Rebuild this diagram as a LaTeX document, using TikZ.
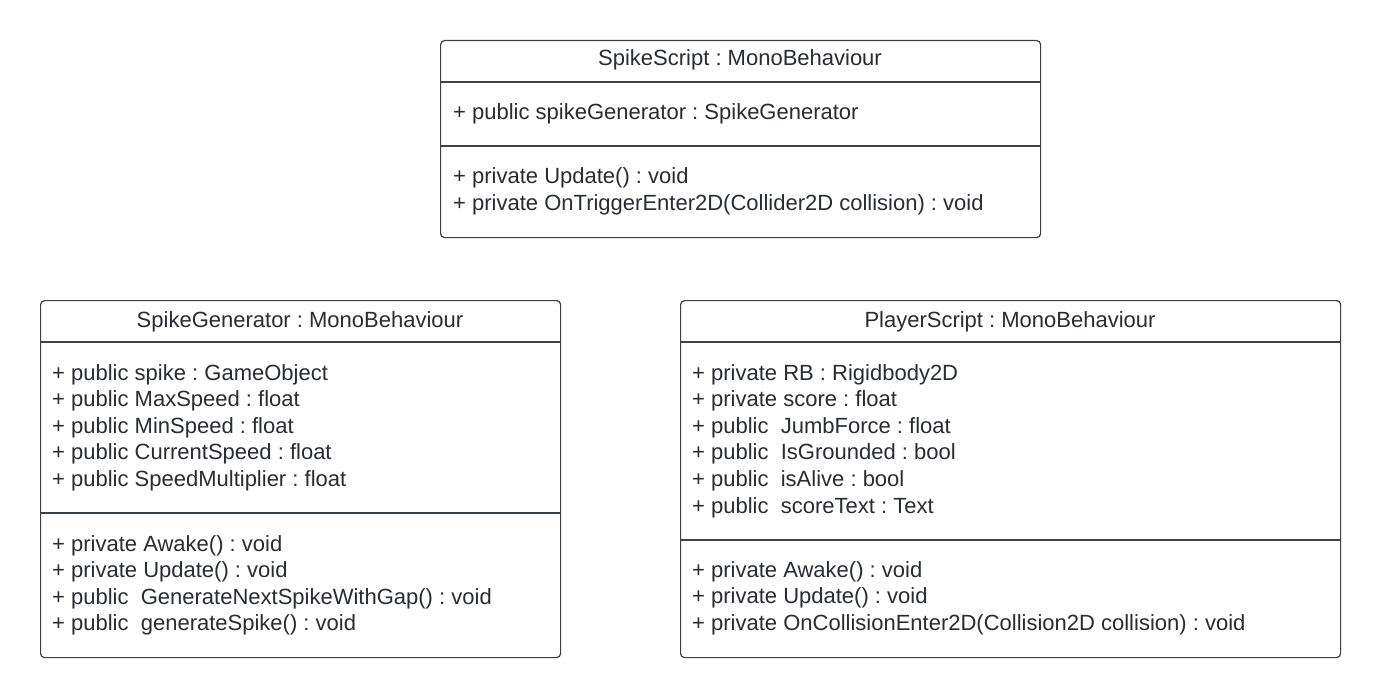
\documentclass[tikz,border=0pt]{standalone}
\usepackage{fontspec}
\setmainfont{Liberation Sans}
\definecolor{linecol}{HTML}{3A414A}
\definecolor{txtcol}{HTML}{282C33}
\begin{document}
\frenchspacing
\begin{tikzpicture}[x=1pt,y=-1pt,
  umlbox/.style={draw=linecol, line width=1.2pt, rounded corners=4pt, fill=white, anchor=north west, inner sep=0pt},
  divider/.style={draw=linecol, line width=1.2pt},
  txt/.style={text=txtcol, font=\fontsize{22}{26}\selectfont\frenchspacing, inner sep=0pt, anchor=base west},
  ttl/.style={text=txtcol, font=\fontsize{22}{26}\selectfont\frenchspacing, inner sep=0pt, anchor=base}]
\useasboundingbox[fill=white] (0,0) rectangle (1380,698);

% SpikeScript
\node[umlbox, minimum width=600pt, minimum height=197pt] (ss) at (440,40) {};
\draw[divider] (ss.west |- 0,82) -- (ss.east |- 0,82);
\draw[divider] (ss.west |- 0,146) -- (ss.east |- 0,146);
\node[ttl] (ss-t) at (740,66) {SpikeScript : MonoBehaviour};
\node[txt] (ss-a1) at (453,120) {+ public spikeGenerator : SpikeGenerator};
\node[txt] (ss-m1) at (453,183) {+ private Update() : void};
\node[txt] (ss-m2) at (453,210) {+ private OnTriggerEnter2D(Collider2D collision) : void};

% SpikeGenerator
\node[umlbox, minimum width=520pt, minimum height=357pt] (sg) at (40,300) {};
\draw[divider] (sg.west |- 0,342) -- (sg.east |- 0,342);
\draw[divider] (sg.west |- 0,513) -- (sg.east |- 0,513);
\node[ttl] (sg-t) at (300,327) {SpikeGenerator : MonoBehaviour};
\foreach \t [count=\i] in {{+ public spike : GameObject},{+ public MaxSpeed : float},{+ public MinSpeed : float},{+ public CurrentSpeed : float},{+ public SpeedMultiplier : float}}
  \node[txt] (sg-a\i) at (52,{380+26.6*(\i-1)}) {\t};
\foreach \t [count=\i] in {{+ private Awake() : void},{+ private Update() : void},{+ public\ \ GenerateNextSpikeWithGap() : void},{+ public\ \ generateSpike() : void}}
  \node[txt] (sg-m\i) at (52,{551+26.6*(\i-1)}) {\t};

% PlayerScript
\node[umlbox, minimum width=660pt, minimum height=357pt] (ps) at (680,300) {};
\draw[divider] (ps.west |- 0,342) -- (ps.east |- 0,342);
\draw[divider] (ps.west |- 0,540) -- (ps.east |- 0,540);
\node[ttl] (ps-t) at (1010,327) {PlayerScript : MonoBehaviour};
\foreach \t [count=\i] in {{+ private RB : Rigidbody2D},{+ private score : float},{+ public\ \ JumbForce : float},{+ public\ \ IsGrounded : bool},{+ public\ \ isAlive : bool},{+ public\ \ scoreText : Text}}
  \node[txt] (ps-a\i) at (692,{380+26.6*(\i-1)}) {\t};
\foreach \t [count=\i] in {{+ private Awake() : void},{+ private Update() : void},{+ private OnCollisionEnter2D(Collision2D collision) : void}}
  \node[txt] (ps-m\i) at (692,{577+26.6*(\i-1)}) {\t};
\end{tikzpicture}
\end{document}
